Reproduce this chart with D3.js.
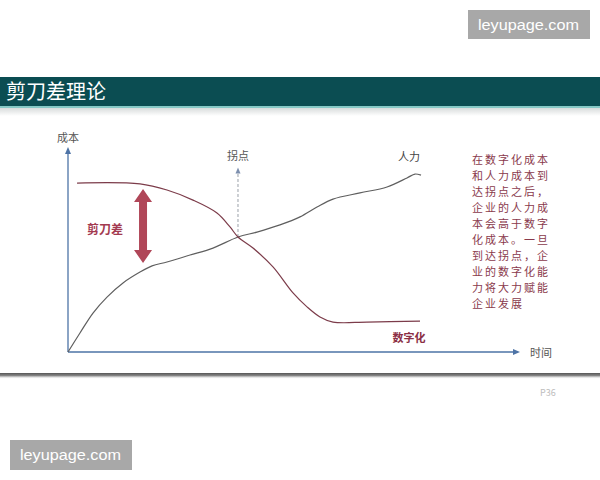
<!DOCTYPE html>
<html><head><meta charset="utf-8">
<script src="https://cdn.jsdelivr.net/npm/d3@7"></script>
<style>
html,body{margin:0;padding:0;background:#fff;}
svg{display:block;font-family:"Noto Sans CJK SC","Noto Sans",sans-serif;}
</style></head>
<body>
<svg id="chart" width="600" height="480"></svg>
<script>
// ---- data ----
const title = "剪刀差理论";
const humanX = [0, 2.65, 5.53, 8.63, 12.17, 15.93, 18.6, 21.9, 26.99, 32.08, 37.61, 41.81, 46.9, 51.33, 55.09, 58.63, 64.6, 70.58, 75.0, 76.77, 78.1];
const humanY = [0, 9.27, 19.0, 26.8, 33.7, 39.0, 42.0, 43.9, 47.3, 50.7, 56.1, 58.5, 62.0, 65.9, 70.7, 74.6, 77.6, 80.5, 84.9, 86.8, 86.3];
const digitalX = [2.0, 15.93, 21.9, 27.65, 32.96, 35.84, 37.61, 40.93, 45.35, 49.78, 52.88, 55.75, 58.63, 66.15, 77.88];
const digitalY = [82.4, 82.0, 79.0, 74.1, 67.8, 61.0, 56.1, 50.7, 41.5, 28.8, 22.0, 17.1, 14.6, 14.6, 15.1];
const tippingX = 37.61, tippingY = 56.1, tippingTop = 90;
const gapX = 16.6, gapTop = 79.5, gapBottom = 43.4;
const axisLabels = {y: "成本", x: "时间"};
const seriesLabels = ["人力", "数字化"];
const gapLabel = "剪刀差";
const tippingLabel = "拐点";
const noteLines = ["在数字化成本","和人力成本到","达拐点之后，","企业的人力成","本会高于数字","化成本。一旦","到达拐点，企","业的数字化能","力将大力赋能","企业发展"];
const pageNo = "P36";
const watermark = "leyupage.com";

// ---- layout ----
const svg = d3.select("#chart");
const x = d3.scaleLinear().domain([0, 100]).range([68, 520]);
const y = d3.scaleLinear().domain([0, 100]).range([352, 147]);

const defs = svg.append("defs");
const g1 = defs.append("linearGradient").attr("id","shadowB").attr("x1",0).attr("y1",0).attr("x2",0).attr("y2",1);
g1.append("stop").attr("offset","0%").attr("stop-color","#555555");
g1.append("stop").attr("offset","45%").attr("stop-color","#888888");
g1.append("stop").attr("offset","100%").attr("stop-color","#ffffff").attr("stop-opacity",0);
const g2 = defs.append("linearGradient").attr("id","shadowT").attr("x1",0).attr("y1",0).attr("x2",0).attr("y2",1);
g2.append("stop").attr("offset","0%").attr("stop-color","#d8dcdc");
g2.append("stop").attr("offset","100%").attr("stop-color","#ffffff");

// title bar
svg.append("rect").attr("x",0).attr("y",77).attr("width",600).attr("height",29).attr("fill","#0b4d52");
svg.append("rect").attr("x",0).attr("y",106).attr("width",600).attr("height",2).attr("fill","#86c9c6");
svg.append("rect").attr("x",0).attr("y",108).attr("width",600).attr("height",8).attr("fill","url(#shadowT)");
svg.append("text").attr("x",6).attr("y",99).attr("fill","#ffffff").attr("font-size",20).text(title);

// bottom shadow of slide
svg.append("rect").attr("x",0).attr("y",373).attr("width",600).attr("height",6).attr("fill","url(#shadowB)");
svg.append("text").attr("x",540).attr("y",396).attr("fill","#bdbdbd").attr("font-size",9).text(pageNo);

// watermarks
const wmFont = "'Liberation Sans', Arial, sans-serif";
svg.append("rect").attr("x",468).attr("y",10).attr("width",122).attr("height",29).attr("fill","#a8a8a8");
svg.append("text").attr("x",478).attr("y",30).attr("fill","#fff").attr("font-size",15.5).attr("font-family",wmFont)
  .attr("textLength",101).attr("lengthAdjust","spacingAndGlyphs").text(watermark);
svg.append("rect").attr("x",10).attr("y",440).attr("width",122).attr("height",30).attr("fill","#a8a8a8");
svg.append("text").attr("x",20).attr("y",460).attr("fill","#fff").attr("font-size",15.5).attr("font-family",wmFont)
  .attr("textLength",101).attr("lengthAdjust","spacingAndGlyphs").text(watermark);

// axes
const axisColor = "#4d73a6";
const ax = svg.append("g");
ax.append("line").attr("x1",x(0)).attr("y1",y(0)).attr("x2",x(100)-4).attr("y2",y(0)).attr("stroke",axisColor).attr("stroke-width",1.3);
ax.append("line").attr("x1",x(0)).attr("y1",y(0)).attr("x2",x(0)).attr("y2",y(100)+4).attr("stroke",axisColor).attr("stroke-width",1.3);
ax.append("path").attr("d",`M${x(100)},${y(0)} l-7,-3 l0,6 z`).attr("fill",axisColor);
ax.append("path").attr("d",`M${x(0)},${y(100)} l-3,7 l6,0 z`).attr("fill",axisColor);
svg.append("text").attr("x",x(0)-11).attr("y",y(100)-5).attr("fill","#555").attr("font-size",11).text(axisLabels.y);
svg.append("text").attr("x",x(100)+10).attr("y",y(0)+5).attr("fill","#555").attr("font-size",11).text(axisLabels.x);

// tipping point dashed line
svg.append("line").attr("x1",x(tippingX)).attr("y1",y(tippingY)).attr("x2",x(tippingX)).attr("y2",y(tippingTop)+3)
  .attr("stroke","#9aa0a8").attr("stroke-width",1).attr("stroke-dasharray","3,2");
svg.append("path").attr("d",`M${x(tippingX)},${y(tippingTop)} l-2.5,6 l5,0 z`).attr("fill","#7d8fae");
svg.append("text").attr("x",x(tippingX)).attr("y",y(tippingTop)-8).attr("text-anchor","middle").attr("fill","#555").attr("font-size",11).text(tippingLabel);

// lines
const line = d3.line().x(d=>x(d[0])).y(d=>y(d[1])).curve(d3.curveCatmullRom.alpha(0.5));
const human = humanX.map((v,i)=>[v, humanY[i]]);
const digital = digitalX.map((v,i)=>[v, digitalY[i]]);
svg.append("path").attr("d",line(human)).attr("fill","none").attr("stroke","#5f5f5f").attr("stroke-width",1.2);
svg.append("path").attr("d",line(digital)).attr("fill","none").attr("stroke","#7c3c4a").attr("stroke-width",1.2);

// series labels
svg.append("text").attr("x",x(humanX[humanX.length-1])-12).attr("y",y(95)+4).attr("text-anchor","middle").attr("fill","#444").attr("font-size",11).text(seriesLabels[0]);
svg.append("text").attr("x",x(digitalX[digitalX.length-1])-11).attr("y",y(6.8)+4).attr("text-anchor","middle").attr("fill","#8b2f45").attr("font-size",11).attr("font-weight","bold").text(seriesLabels[1]);

// double arrow
const ac = "#b04658";
const axp = x(gapX), ayt = y(gapTop), ayb = y(gapBottom);
const hw = 9, sw = 4, hl = 13;
svg.append("path").attr("d",
  `M${axp},${ayt} L${axp+hw},${ayt+hl} L${axp+sw},${ayt+hl} L${axp+sw},${ayb-hl} L${axp+hw},${ayb-hl} L${axp},${ayb} L${axp-hw},${ayb-hl} L${axp-sw},${ayb-hl} L${axp-sw},${ayt+hl} L${axp-hw},${ayt+hl} Z`)
  .attr("fill",ac);
svg.append("text").attr("x",105).attr("y",234).attr("text-anchor","middle").attr("fill","#a33a50").attr("font-size",12).attr("font-weight","bold").text(gapLabel);

// note text
svg.append("g").selectAll("text").data(noteLines).join("text")
  .attr("x",472).attr("y",(d,i)=>163.5+i*16).attr("fill","#8a3a4c").attr("font-size",11)
  .attr("letter-spacing",2).text(d=>d);
</script>
</body></html>
